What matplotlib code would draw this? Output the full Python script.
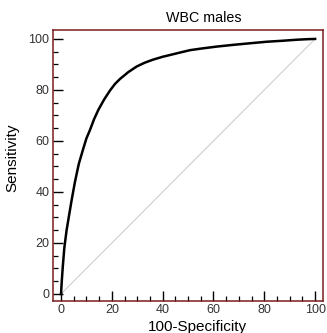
import matplotlib.pyplot as plt
from matplotlib.ticker import MultipleLocator

plt.rcParams["font.family"] = ["Liberation Sans", "DejaVu Sans"]

# ROC curve
fpr = [0, 0.3, 0.7, 1.3, 2.2, 3.2, 4.2, 5.5, 7.0, 8.8, 10.0, 11.4, 13.0, 14.7,
       17.0, 19.3, 21.2, 23.2, 26.5, 29.8, 33.0, 36.3, 40.0, 42.9, 47.0,
       50.8, 55.0, 61.3, 68.0, 74.4, 81.0, 87.4, 93.0, 97.0, 100]
tpr = [0, 5.0, 10.7, 18.0, 25.0, 31.0, 36.9, 44.0, 51.0, 57.1, 61.0, 64.3,
       68.5, 72.2, 76.3, 79.8, 82.3, 84.3, 87.0, 89.2, 90.7, 91.9, 93.0,
       93.7, 94.7, 95.6, 96.2, 97.0, 97.7, 98.3, 98.9, 99.3, 99.7, 99.9, 100]
diag = [0, 100]

TITLE = "WBC males"
XLABEL = "100-Specificity"
YLABEL = "Sensitivity"

SPINE_C = "#7a1c1c"
TEXT_C = "#333333"

fig = plt.figure(figsize=(3.27, 3.33), dpi=100)
ax = fig.add_axes([53 / 327, 1 - 301 / 333, 270 / 327, 271 / 333])

ax.plot(diag, diag, color="#c8c8c8", linewidth=0.7, zorder=1)
ax.plot(fpr, tpr, color="black", linewidth=1.8, zorder=2,
        solid_joinstyle="round")

ax.set_xlim(-3.15, 103.1)
ax.set_ylim(-2.75, 103.5)

ax.xaxis.set_major_locator(MultipleLocator(20))
ax.xaxis.set_minor_locator(MultipleLocator(5))
ax.yaxis.set_major_locator(MultipleLocator(20))
ax.yaxis.set_minor_locator(MultipleLocator(5))

for s in ax.spines.values():
    s.set_color(SPINE_C)
    s.set_linewidth(1.1)

ax.tick_params(which="major", direction="in", length=7, width=1.0,
               color="black", labelsize=9, labelcolor=TEXT_C, pad=2.5)
ax.tick_params(which="minor", direction="in", length=3.5, width=0.9,
               color="black")
ax.tick_params(top=False, right=False, which="both")

# title sits a little right of the axes centre in the reference
ax.text(0.56, 1.017, TITLE, transform=ax.transAxes, ha="center", va="bottom",
        fontsize=10.3, color="black")
ax.set_xlabel(XLABEL, fontsize=11, color="black")
ax.set_ylabel(YLABEL, fontsize=11, color="black")
ax.xaxis.set_label_coords(0.535, -0.07)
ax.yaxis.set_label_coords(-0.126, 0.53)

fig.savefig("out.png", dpi=100)
